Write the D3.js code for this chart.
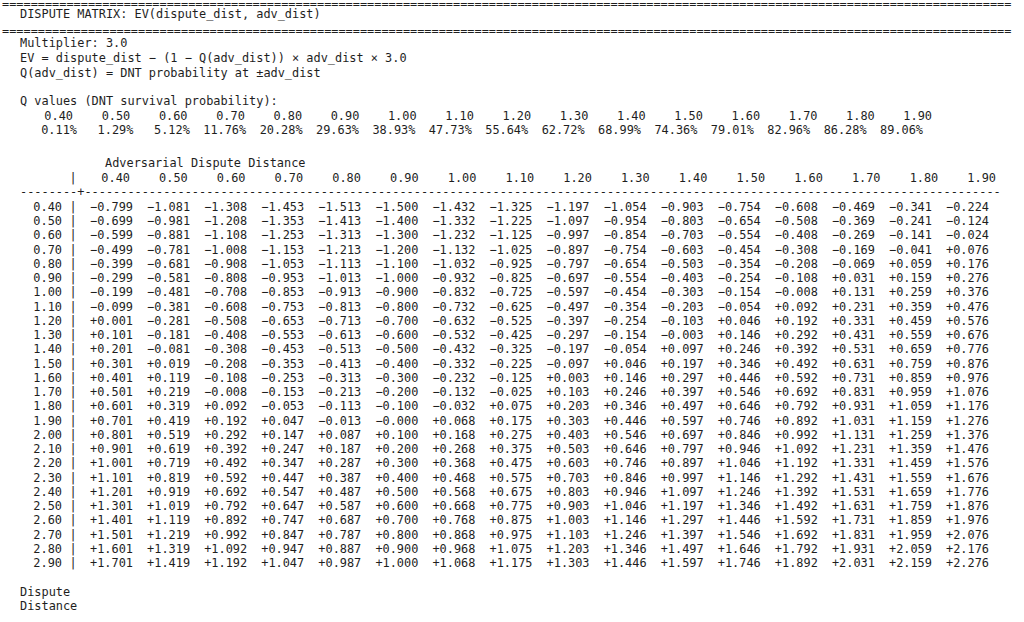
<!DOCTYPE html>
<html>
<head>
<meta charset="utf-8">
<script src="https://cdn.jsdelivr.net/npm/d3@7"></script>
<style>
  body { margin: 0; background: #fff; }
  text { font-family: "DejaVu Sans Mono", monospace; font-size: 11.9px; fill: #1e1e1e; }
</style>
</head>
<body>
<svg id="chart" width="1024" height="622"></svg>
<script>
// adversarial distances (columns) and dispute distances (rows)
const advDist = ["0.40","0.50","0.60","0.70","0.80","0.90","1.00","1.10","1.20","1.30","1.40","1.50","1.60","1.70","1.80","1.90"];
const qValues = ["0.11%","1.29%","5.12%","11.76%","20.28%","29.63%","38.93%","47.73%","55.64%","62.72%","68.99%","74.36%","79.01%","82.96%","86.28%","89.06%"];
const disputeDist = ["0.40","0.50","0.60","0.70","0.80","0.90","1.00","1.10","1.20","1.30","1.40","1.50","1.60","1.70","1.80","1.90","2.00","2.10","2.20","2.30","2.40","2.50","2.60","2.70","2.80","2.90"];
const headerLines = [
  "DISPUTE MATRIX: EV(dispute_dist, adv_dist)"
];
const infoLines = [
  "Multiplier: 3.0",
  "EV = dispute_dist \u2212 (1 \u2212 Q(adv_dist)) \u00d7 adv_dist \u00d7 3.0",
  "Q(adv_dist) = DNT probability at \u00b1adv_dist"
];
// EV matrix, one line per dispute distance
const evRows = [
  "-0.799 -1.081 -1.308 -1.453 -1.513 -1.500 -1.432 -1.325 -1.197 -1.054 -0.903 -0.754 -0.608 -0.469 -0.341 -0.224",
  "-0.699 -0.981 -1.208 -1.353 -1.413 -1.400 -1.332 -1.225 -1.097 -0.954 -0.803 -0.654 -0.508 -0.369 -0.241 -0.124",
  "-0.599 -0.881 -1.108 -1.253 -1.313 -1.300 -1.232 -1.125 -0.997 -0.854 -0.703 -0.554 -0.408 -0.269 -0.141 -0.024",
  "-0.499 -0.781 -1.008 -1.153 -1.213 -1.200 -1.132 -1.025 -0.897 -0.754 -0.603 -0.454 -0.308 -0.169 -0.041 +0.076",
  "-0.399 -0.681 -0.908 -1.053 -1.113 -1.100 -1.032 -0.925 -0.797 -0.654 -0.503 -0.354 -0.208 -0.069 +0.059 +0.176",
  "-0.299 -0.581 -0.808 -0.953 -1.013 -1.000 -0.932 -0.825 -0.697 -0.554 -0.403 -0.254 -0.108 +0.031 +0.159 +0.276",
  "-0.199 -0.481 -0.708 -0.853 -0.913 -0.900 -0.832 -0.725 -0.597 -0.454 -0.303 -0.154 -0.008 +0.131 +0.259 +0.376",
  "-0.099 -0.381 -0.608 -0.753 -0.813 -0.800 -0.732 -0.625 -0.497 -0.354 -0.203 -0.054 +0.092 +0.231 +0.359 +0.476",
  "+0.001 -0.281 -0.508 -0.653 -0.713 -0.700 -0.632 -0.525 -0.397 -0.254 -0.103 +0.046 +0.192 +0.331 +0.459 +0.576",
  "+0.101 -0.181 -0.408 -0.553 -0.613 -0.600 -0.532 -0.425 -0.297 -0.154 -0.003 +0.146 +0.292 +0.431 +0.559 +0.676",
  "+0.201 -0.081 -0.308 -0.453 -0.513 -0.500 -0.432 -0.325 -0.197 -0.054 +0.097 +0.246 +0.392 +0.531 +0.659 +0.776",
  "+0.301 +0.019 -0.208 -0.353 -0.413 -0.400 -0.332 -0.225 -0.097 +0.046 +0.197 +0.346 +0.492 +0.631 +0.759 +0.876",
  "+0.401 +0.119 -0.108 -0.253 -0.313 -0.300 -0.232 -0.125 +0.003 +0.146 +0.297 +0.446 +0.592 +0.731 +0.859 +0.976",
  "+0.501 +0.219 -0.008 -0.153 -0.213 -0.200 -0.132 -0.025 +0.103 +0.246 +0.397 +0.546 +0.692 +0.831 +0.959 +1.076",
  "+0.601 +0.319 +0.092 -0.053 -0.113 -0.100 -0.032 +0.075 +0.203 +0.346 +0.497 +0.646 +0.792 +0.931 +1.059 +1.176",
  "+0.701 +0.419 +0.192 +0.047 -0.013 -0.000 +0.068 +0.175 +0.303 +0.446 +0.597 +0.746 +0.892 +1.031 +1.159 +1.276",
  "+0.801 +0.519 +0.292 +0.147 +0.087 +0.100 +0.168 +0.275 +0.403 +0.546 +0.697 +0.846 +0.992 +1.131 +1.259 +1.376",
  "+0.901 +0.619 +0.392 +0.247 +0.187 +0.200 +0.268 +0.375 +0.503 +0.646 +0.797 +0.946 +1.092 +1.231 +1.359 +1.476",
  "+1.001 +0.719 +0.492 +0.347 +0.287 +0.300 +0.368 +0.475 +0.603 +0.746 +0.897 +1.046 +1.192 +1.331 +1.459 +1.576",
  "+1.101 +0.819 +0.592 +0.447 +0.387 +0.400 +0.468 +0.575 +0.703 +0.846 +0.997 +1.146 +1.292 +1.431 +1.559 +1.676",
  "+1.201 +0.919 +0.692 +0.547 +0.487 +0.500 +0.568 +0.675 +0.803 +0.946 +1.097 +1.246 +1.392 +1.531 +1.659 +1.776",
  "+1.301 +1.019 +0.792 +0.647 +0.587 +0.600 +0.668 +0.775 +0.903 +1.046 +1.197 +1.346 +1.492 +1.631 +1.759 +1.876",
  "+1.401 +1.119 +0.892 +0.747 +0.687 +0.700 +0.768 +0.875 +1.003 +1.146 +1.297 +1.446 +1.592 +1.731 +1.859 +1.976",
  "+1.501 +1.219 +0.992 +0.847 +0.787 +0.800 +0.868 +0.975 +1.103 +1.246 +1.397 +1.546 +1.692 +1.831 +1.959 +2.076",
  "+1.601 +1.319 +1.092 +0.947 +0.887 +0.900 +0.968 +1.075 +1.203 +1.346 +1.497 +1.646 +1.792 +1.931 +2.059 +2.176",
  "+1.701 +1.419 +1.192 +1.047 +0.987 +1.000 +1.068 +1.175 +1.303 +1.446 +1.597 +1.746 +1.892 +2.031 +2.159 +2.276"
];

const svg = d3.select("#chart");
const fmt = s => s.replace(/^-/, "\u2212"); // unicode minus like the terminal

// scales: column index -> right edge x, row index -> baseline y
const xCell = d3.scaleLinear().domain([0, 15]).range([133, 989]);
const xHead = d3.scaleLinear().domain([0, 15]).range([130, 996]);
const xQlab = d3.scaleLinear().domain([0, 15]).range([73, 932]);
const xQpct = d3.scaleLinear().domain([0, 15]).range([77, 923]);
const yRow = d3.scaleLinear().domain([0, 25]).range([211, 567]);

const txt = (x, y, s, anchor) => svg.append("text").attr("x", x).attr("y", y)
  .attr("text-anchor", anchor || "start").attr("xml:space", "preserve").text(s);

// separators
const eq = "=".repeat(141);
txt(2, 8, eq); txt(2, 35, eq);
headerLines.forEach((l, i) => txt(20, 18 + i * 15, l));
infoLines.forEach((l, i) => txt(20, 47 + i * 15, l));
txt(20, 105, "Q values (DNT survival probability):");

svg.selectAll(".qlab").data(advDist).join("text").attr("class", "qlab")
  .attr("x", (d, i) => xQlab(i)).attr("y", 120).attr("text-anchor", "end").text(d => d);
svg.selectAll(".qpct").data(qValues).join("text").attr("class", "qpct")
  .attr("x", (d, i) => xQpct(i)).attr("y", 134).attr("text-anchor", "end").text(d => d);

txt(105, 167, "Adversarial Dispute Distance");
svg.selectAll(".head").data(advDist).join("text").attr("class", "head")
  .attr("x", (d, i) => xHead(i)).attr("y", 182).attr("text-anchor", "end").text(d => d);
txt(73, 182, "|", "middle");

// dashed rule with the cross
txt(20, 196, "-".repeat(8) + "+" + "-".repeat(128));

// matrix rows
const rows = svg.selectAll(".row").data(disputeDist).join("g").attr("class", "row")
  .attr("transform", (d, i) => `translate(0,${yRow(i)})`);
rows.append("text").attr("x", 62).attr("text-anchor", "end").text(d => d);
rows.append("text").attr("x", 73).attr("text-anchor", "middle").text("|");
rows.selectAll(".cell").data((d, i) => evRows[i].split(" ")).join("text").attr("class", "cell")
  .attr("x", (d, j) => xCell(j)).attr("text-anchor", "end").text(d => fmt(d));

txt(20, 596, "Dispute");
txt(20, 610, "Distance");
</script>
</body>
</html>
